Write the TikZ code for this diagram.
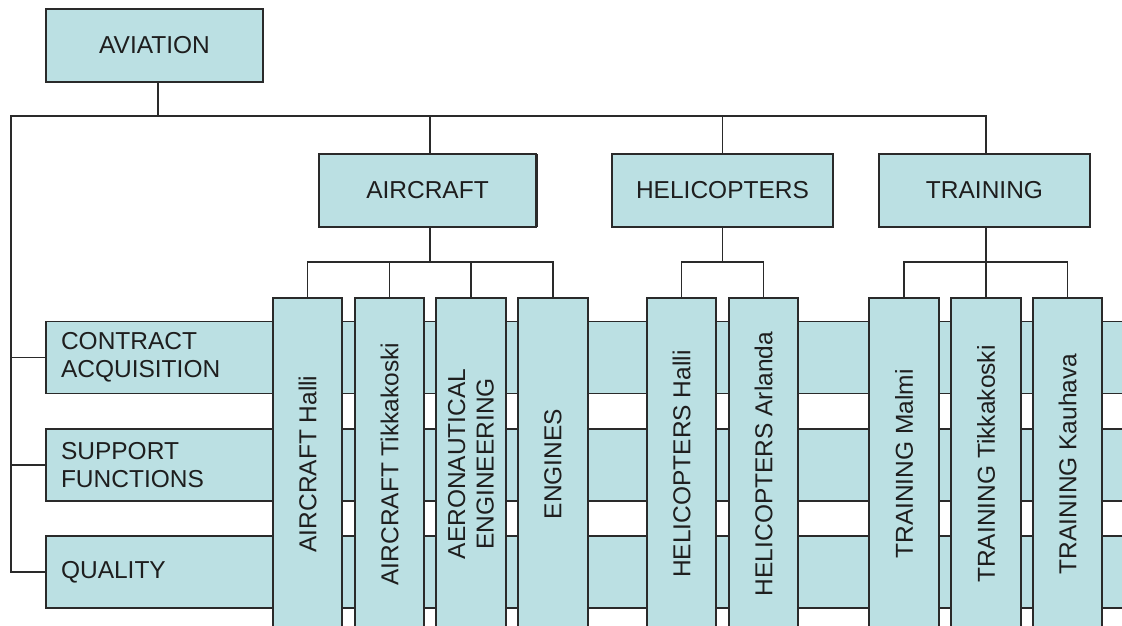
\documentclass[tikz,border=0pt]{standalone}
\usepackage{fontspec}
\setmainfont{Liberation Sans}
\definecolor{boxfill}{HTML}{BBE0E3}
\definecolor{edge}{HTML}{2A2A2A}
\definecolor{ink}{HTML}{1E1E1E}
\begin{document}
\begin{tikzpicture}[x=1pt,y=-1pt,
  every node/.style={font=\fontsize{24.5}{28.5}\selectfont, text=ink, inner sep=0pt, outer sep=0pt},
  unitbox/.style={draw=edge, line width=1.3pt, fill=boxfill, minimum width=217, minimum height=73},
  rowbox/.style={draw=edge, line width=1.3pt, fill=boxfill, anchor=west, minimum height=72,
                 text width=1070, inner xsep=15pt, align=left},
  colbox/.style={draw=edge, line width=1.3pt, fill=boxfill, rotate=90, minimum width=332,
                 minimum height=69, align=center},
  link/.style={draw=edge, line width=1.3pt}]
\useasboundingbox (0,0) rectangle (1122,625);
\clip (0,0) rectangle (1122,625);

% top level and units
\node[unitbox] (avi) at (154.5,45.5) {AVIATION};
\node[unitbox] (air) at (427.5,190.5) {AIRCRAFT};
\node[unitbox, minimum width=221] (hel) at (722.5,190.5) {HELICOPTERS};
\node[unitbox, minimum width=211] (tra) at (984.5,190.5) {TRAINING};
\draw[edge, line width=2.6pt] ([xshift=0.6]air.north east) -- ([xshift=0.6]air.south east);

% staff functions (rows)
\node[rowbox] (ca) at (46,357.5) {CONTRACT\\ACQUISITION};
\node[rowbox] (sf) at (46,465) {SUPPORT\\FUNCTIONS};
\node[rowbox] (q)  at (46,572) {QUALITY};

% main bus
\coordinate (lt) at (11,116);
\draw[link] ([xshift=3.5]avi.south) -- ([xshift=3.5]avi.south |- lt);
\draw[link] ([xshift=1.5]tra.north) |- (lt) |- (q.west);
\draw[link] (lt |- ca.west) -- (ca.west);
\draw[link] (lt |- sf.west) -- (sf.west);
\draw[link] ([xshift=2.5]air.north) -- ([xshift=2.5]air.north |- lt);
\draw[link] (hel.north) -- (hel.north |- lt);

% operating units (columns)
\node[colbox] (ah) at (307.5,464) {AIRCRAFT Halli};
\node[colbox] (at) at (389.5,464) {AIRCRAFT Tikkakoski};
\node[colbox, minimum height=70] (ae) at (471,464) {AERONAUTICAL\\ENGINEERING};
\node[colbox, minimum height=70] (en) at (553,464) {ENGINES};
\node[colbox] (hh) at (681.5,464) {HELICOPTERS Halli};
\node[colbox] (ha) at (763.5,464) {HELICOPTERS Arlanda};
\node[colbox, minimum height=70] (tm) at (904,464) {TRAINING Malmi};
\node[colbox, minimum height=70] (tt) at (986,464) {TRAINING Tikkakoski};
\node[colbox] (tk) at (1067.5,464) {TRAINING Kauhava};

% unit buses
\draw[link] ([xshift=2.5]air.south) -- ++(0,35);
\draw[link] (ah.east) -- ++(0,-36) -| (en.east);
\draw[link] (at.east) -- ++(0,-36);
\draw[link] (ae.east) -- ++(0,-36);

\draw[link] (hel.south) -- ++(0,35);
\draw[link] (hh.east) -- ++(0,-36) -| (ha.east);

\draw[link] ([xshift=1.5]tra.south) -- (tt.east);
\draw[link] (tm.east) -- ++(0,-36) -| (tk.east);
\end{tikzpicture}
\end{document}
